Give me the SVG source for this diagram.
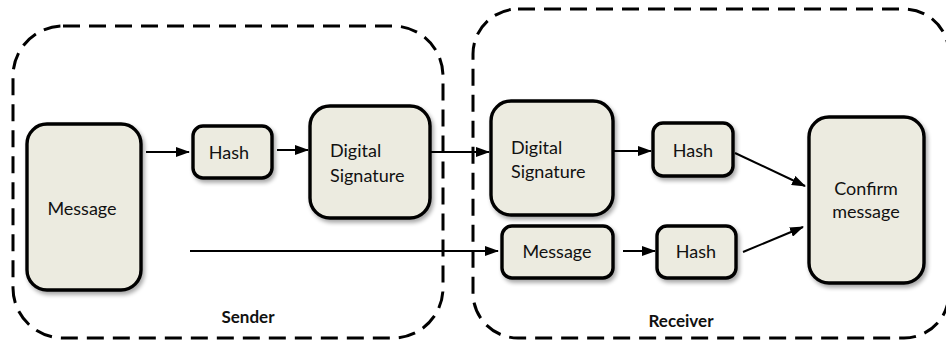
<svg xmlns="http://www.w3.org/2000/svg" width="946" height="341" viewBox="0 0 946 341">
<defs>
<style>
.grp{fill:none;stroke:#000;stroke-width:3;stroke-dasharray:17 9}
.box{fill:#ecebe0;stroke:#000;stroke-width:3.4;filter:url(#sh)}
.t{font-family:Lato,"Open Sans",sans-serif;font-size:18px;fill:#111}
.c{text-anchor:middle}
.lbl{font-family:Lato,"Open Sans",sans-serif;font-size:17px;font-weight:bold;fill:#111;text-anchor:middle}
.ln{fill:none;stroke:#000;stroke-width:2}
</style>
<filter id="sh" x="-20%" y="-20%" width="140%" height="140%">
<feGaussianBlur in="SourceAlpha" stdDeviation="2"/>
<feOffset dx="2" dy="3" result="b"/>
<feComponentTransfer><feFuncA type="linear" slope="0.35"/></feComponentTransfer>
<feMerge><feMergeNode/><feMergeNode in="SourceGraphic"/></feMerge>
</filter>
<marker id="ah" markerWidth="14" markerHeight="10" refX="13" refY="5" orient="auto" markerUnits="userSpaceOnUse">
<path d="M0,0 L14,5 L0,10 Z" fill="#000"/>
</marker>
</defs>

<g id="sender">
<rect class="grp" x="13" y="26" width="430" height="312" rx="50"/>
<text class="lbl" x="248" y="323">Sender</text>
</g>
<g id="receiver">
<rect class="grp" x="473" y="9" width="476" height="329" rx="45"/>
<text class="lbl" x="681" y="327">Receiver</text>
</g>

<g id="connectors">
<line class="ln" x1="146" y1="152" x2="189" y2="152" marker-end="url(#ah)"/>
<line class="ln" x1="277" y1="150" x2="308" y2="150" marker-end="url(#ah)"/>
<line class="ln" x1="431" y1="152" x2="489" y2="152" marker-end="url(#ah)"/>
<line class="ln" x1="190" y1="251" x2="498" y2="251" marker-end="url(#ah)"/>
<line class="ln" x1="614" y1="151" x2="651" y2="151" marker-end="url(#ah)"/>
<line class="ln" x1="623" y1="251" x2="655" y2="251" marker-end="url(#ah)"/>
<line class="ln" x1="735" y1="153" x2="805" y2="186" marker-end="url(#ah)"/>
<line class="ln" x1="743" y1="252" x2="803" y2="227" marker-end="url(#ah)"/>
</g>

<g id="s-message">
<rect class="box" x="27" y="124" width="114" height="166" rx="20"/>
<text class="t c" x="82" y="215">Message</text>
</g>
<g id="s-hash">
<rect class="box" x="193" y="126" width="79" height="52" rx="10"/>
<text class="t c" x="229" y="159">Hash</text>
</g>
<g id="s-signature">
<rect class="box" x="310" y="106" width="120" height="112" rx="20"/>
<text class="t" x="330" y="157">Digital</text>
<text class="t" x="330" y="182">Signature</text>
</g>
<g id="r-signature">
<rect class="box" x="491" y="101" width="122" height="114" rx="20"/>
<text class="t" x="511" y="154">Digital</text>
<text class="t" x="511" y="178">Signature</text>
</g>
<g id="r-hash1">
<rect class="box" x="653" y="123" width="80" height="53" rx="10"/>
<text class="t c" x="693" y="157">Hash</text>
</g>
<g id="r-message">
<rect class="box" x="502" y="226" width="111" height="52" rx="10"/>
<text class="t c" x="557" y="258">Message</text>
</g>
<g id="r-hash2">
<rect class="box" x="657" y="226" width="79" height="52" rx="10"/>
<text class="t c" x="696" y="258">Hash</text>
</g>
<g id="confirm">
<rect class="box" x="809" y="117" width="115" height="166" rx="20"/>
<text class="t c" x="866" y="195">Confirm</text>
<text class="t c" x="866" y="218">message</text>
</g>
</svg>
